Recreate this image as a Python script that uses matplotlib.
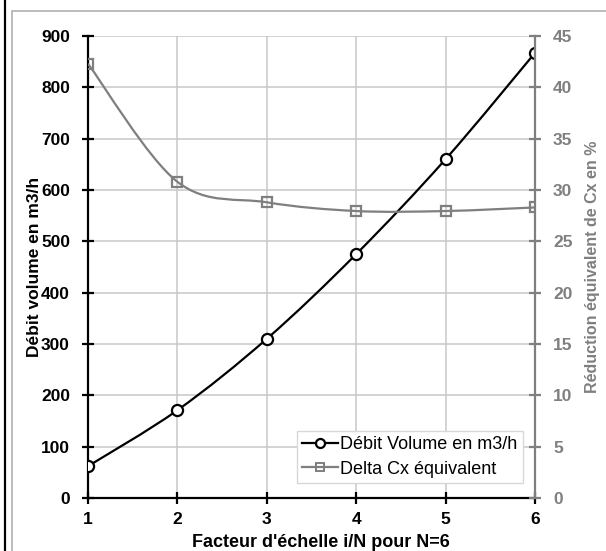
import matplotlib.pyplot as plt
from matplotlib.path import Path
from matplotlib.patches import PathPatch, Rectangle
from matplotlib.lines import Line2D

plt.rcParams['font.family'] = ['Liberation Sans', 'DejaVu Sans']

facteur = [1, 2, 3, 4, 5, 6]
debit = [62, 171, 310, 475, 660, 867]
delta_cx = [42.3, 30.8, 28.8, 27.95, 27.95, 28.3]

GRAY = '#7f7f7f'
GRID = '#c8c8c8'


def smooth_path(xs, ys):
    # bezier smoothing like Excel "smoothed line"
    pts = list(zip(xs, ys))
    verts = [pts[0]]
    codes = [Path.MOVETO]
    n = len(pts)
    for i in range(n - 1):
        p0 = pts[i - 1] if i > 0 else pts[i]
        p1 = pts[i]
        p2 = pts[i + 1]
        p3 = pts[i + 2] if i + 2 < n else pts[i + 1]
        c1 = (p1[0] + (p2[0] - p0[0]) / 6, p1[1] + (p2[1] - p0[1]) / 6)
        c2 = (p2[0] - (p3[0] - p1[0]) / 6, p2[1] - (p3[1] - p1[1]) / 6)
        verts += [c1, c2, p2]
        codes += [Path.CURVE4] * 3
    return Path(verts, codes)


fig = plt.figure(figsize=(6.06, 5.51), dpi=100)
ax = fig.add_axes([0.1452, 0.0962, 0.7376, 0.8385])
ax2 = ax.twinx()

# outer frame like the spreadsheet chart area
fig.patches.append(Rectangle((12 / 606, -0.1), 1.2, 1 - 11 / 551 + 0.1,
                             transform=fig.transFigure, fill=False,
                             edgecolor='#b0b0b0', lw=1.2))
fig.add_artist(Line2D([5 / 606, 5 / 606], [0, 1], transform=fig.transFigure,
                      color='black', lw=1.6))

ax.set_xlim(1, 6)
ax.set_ylim(0, 900)
ax2.set_ylim(0, 45)
ax.set_xticks(facteur)
ax.set_yticks(range(0, 901, 100))
ax2.set_yticks(range(0, 46, 5))

ax.grid(True, color=GRID, lw=1.1)
ax.set_axisbelow(True)

ax.add_patch(PathPatch(smooth_path(facteur, debit), fill=False,
                       edgecolor='black', lw=1.6, zorder=3))
ax.plot(facteur, debit, ls='none', marker='o', ms=8, mfc='white',
        mec='black', mew=1.6, zorder=4)
ax2.add_patch(PathPatch(smooth_path(facteur, delta_cx), fill=False,
                        edgecolor=GRAY, lw=1.6, zorder=3))
ax2.plot(facteur, delta_cx, ls='none', marker='s', ms=7.5, mfc='none',
         mec=GRAY, mew=1.6, zorder=4)

for s in ['top', 'right']:
    ax.spines[s].set_visible(False)
for s in ['top', 'left', 'bottom']:
    ax2.spines[s].set_visible(False)
ax.spines['left'].set_linewidth(1.6)
ax.spines['bottom'].set_linewidth(1.6)
ax2.spines['right'].set_color(GRAY)
ax2.spines['right'].set_linewidth(1.6)

ax.tick_params(axis='both', direction='inout', length=8, width=1.6,
               labelsize=12.5)
ax.tick_params(axis='x', pad=6)
ax.tick_params(axis='y', pad=9)
ax2.tick_params(axis='y', direction='inout', length=8, width=1.6,
                color=GRAY, labelcolor=GRAY, labelsize=12.5, pad=9)
for lab in ax.get_xticklabels() + ax.get_yticklabels() + ax2.get_yticklabels():
    lab.set_fontweight('bold')

ax.set_xlabel("Facteur d'échelle i/N pour N=6", fontsize=13,
              fontweight='bold')
ax.set_ylabel('Débit volume en m3/h', fontsize=12.5, fontweight='bold')
ax2.set_ylabel('Réduction équivalent de Cx en %', fontsize=11.5,
               fontweight='bold', color=GRAY)
ax.xaxis.set_label_coords(0.521, -0.077)
ax.yaxis.set_label_coords(-0.103, 0.5)
ax2.yaxis.set_label_coords(1.112, 0.5)

handles = [
    Line2D([], [], color='black', lw=1.6, marker='o', ms=6.5, mfc='white',
           mec='black', mew=1.6),
    Line2D([], [], color=GRAY, lw=1.6, marker='s', ms=6, mfc='none',
           mec=GRAY, mew=1.4),
]
leg = ax2.legend(handles, ['Débit Volume en m3/h', 'Delta Cx équivalent'],
                 loc='lower right', bbox_to_anchor=(0.973, 0.032),
                 fontsize=13, frameon=True, fancybox=False,
                 edgecolor='#d8d8d8', framealpha=1, handlelength=1.95,
                 handletextpad=0.15, borderpad=0.3, borderaxespad=0,
                 labelspacing=0.42)
leg.get_frame().set_linewidth(1.0)

fig.savefig('out.png', dpi=100)
